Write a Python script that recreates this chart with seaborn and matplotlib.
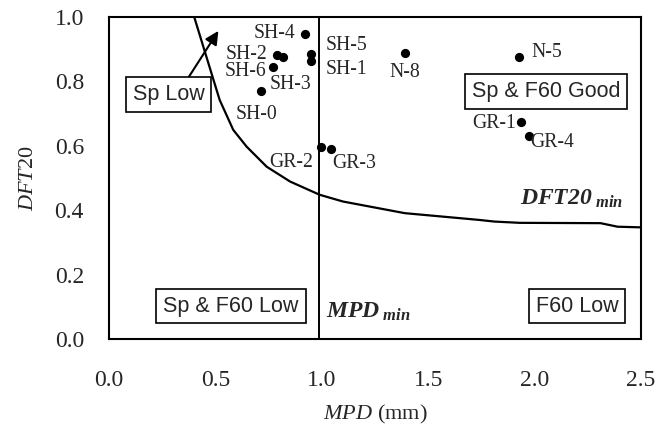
import matplotlib
matplotlib.use("Agg")
import matplotlib.pyplot as plt
import seaborn as sns
import pandas as pd

# ---- data ----
site_names = ["SH-4", "SH-2", "SH-3", "SH-5", "SH-1", "SH-6", "SH-0",
              "GR-2", "GR-3", "N-8", "N-5", "GR-1", "GR-4"]
mpd_values = [0.921, 0.791, 0.819, 0.949, 0.949, 0.772, 0.714,
              0.996, 1.043, 1.392, 1.927, 1.934, 1.972]
dft_values = [0.945, 0.881, 0.874, 0.883, 0.863, 0.843, 0.771,
              0.597, 0.590, 0.888, 0.874, 0.673, 0.631]

curve_mpd = [0.40, 0.52, 0.584, 0.647, 0.741, 0.851, 0.99, 1.10, 1.39,
             1.74, 1.81, 1.93, 2.31, 2.39, 2.50]
curve_dft = [1.00, 0.742, 0.649, 0.597, 0.535, 0.489, 0.448, 0.427, 0.391,
             0.370, 0.365, 0.361, 0.360, 0.349, 0.347]

mpd_min = 0.988

x_ticks = [0.0, 0.5, 1.0, 1.5, 2.0, 2.5]
y_ticks = [0.0, 0.2, 0.4, 0.6, 0.8, 1.0]

# label placement (text anchor, alignment)
label_pos = {
    "SH-4": (0.874, 0.934, "right"),
    "SH-2": (0.742, 0.868, "right"),
    "SH-6": (0.738, 0.815, "right"),
    "SH-3": (0.757, 0.776, "left"),
    "SH-0": (0.597, 0.683, "left"),
    "SH-5": (1.020, 0.896, "left"),
    "SH-1": (1.020, 0.822, "left"),
    "N-8": (1.320, 0.813, "left"),
    "GR-2": (0.959, 0.534, "right"),
    "GR-3": (1.048, 0.531, "left"),
    "N-5": (1.983, 0.875, "left"),
    "GR-1": (1.913, 0.655, "right"),
    "GR-4": (1.978, 0.596, "left"),
}

sns.set_style("white")
plt.rcParams["font.family"] = ["Liberation Serif", "DejaVu Serif"]
plt.rcParams["mathtext.fontset"] = "custom"
plt.rcParams["mathtext.it"] = "Liberation Serif:italic"
plt.rcParams["mathtext.rm"] = "Liberation Serif"
plt.rcParams["mathtext.bf"] = "Liberation Serif:bold"
plt.rcParams["mathtext.bfit"] = "Liberation Serif:italic:bold"

fig = plt.figure(figsize=(6.69, 4.38), dpi=100)
ax = fig.add_axes([109 / 669, 1 - 339.3 / 438, 532 / 669, 322.6 / 438])

pts = pd.DataFrame({"name": site_names, "MPD": mpd_values, "DFT20": dft_values})
crv = pd.DataFrame({"MPD": curve_mpd, "DFT20": curve_dft})

sns.lineplot(data=crv, x="MPD", y="DFT20", sort=False, estimator=None,
             color="black", lw=1.6, ax=ax, zorder=2)
ax.axvline(mpd_min, color="black", lw=1.4, zorder=2)
sns.scatterplot(data=pts, x="MPD", y="DFT20", color="black", s=44,
                edgecolor="black", linewidth=0, ax=ax, zorder=3)

for n in site_names:
    x, y, ha = label_pos[n]
    ax.text(x, y, n, ha=ha, va="baseline", fontsize=14.2, zorder=4)

box = dict(boxstyle="square,pad=0.32", fc="white", ec="black", lw=1.2)
sans = ["Liberation Sans", "DejaVu Sans"]
ax.text(0.280, 0.760, "Sp Low", ha="center", va="center", fontsize=15.5,
        family=sans, bbox=box, zorder=5)
ax.text(2.054, 0.767, "Sp & F60 Good", ha="center", va="center", fontsize=15.5,
        family=sans, bbox=box, zorder=5)
ax.text(0.573, 0.103, "Sp & F60 Low", ha="center", va="center", fontsize=15.5,
        family=sans, bbox=box, zorder=5)
ax.text(2.199, 0.103, "F60 Low", ha="center", va="center", fontsize=15.5,
        family=sans, bbox=box, zorder=5)

ax.text(1.020, 0.066, r"$\mathbfit{MPD}_{\ \mathbfit{min}}$", ha="left",
        va="baseline", fontsize=17)
ax.text(1.931, 0.416, r"$\mathbfit{DFT20}_{\ \mathbfit{min}}$", ha="left",
        va="baseline", fontsize=17)

ax.annotate("", xy=(0.514, 0.956), xytext=(0.366, 0.804),
            arrowprops=dict(arrowstyle="-|>", lw=1.5, color="black",
                            mutation_scale=20, shrinkA=0, shrinkB=0))

ax.set_xlim(0, 2.5)
ax.set_ylim(0, 1.0)
ax.set_xticks(x_ticks)
ax.set_yticks(y_ticks)
ax.set_yticks([0.1, 0.3, 0.5, 0.7, 0.9], minor=True)
ax.set_xticklabels([f"{v:.1f}" for v in x_ticks])
ax.set_yticklabels([f"{v:.1f}" for v in y_ticks])
ax.tick_params(axis="both", which="both", direction="in", length=6, width=1.2,
               labelsize=17, top=False, right=False)
ax.tick_params(axis="x", pad=22)
ax.tick_params(axis="y", pad=18)

for s in ax.spines.values():
    s.set_visible(True)
    s.set_linewidth(1.5)
    s.set_color("black")

ax.set_xlabel(r"$\mathit{MPD}$ (mm)", fontsize=16, labelpad=9)
ax.set_ylabel(r"$\mathit{DFT20}$", fontsize=16, labelpad=12)

fig.savefig("out.png", dpi=100)
